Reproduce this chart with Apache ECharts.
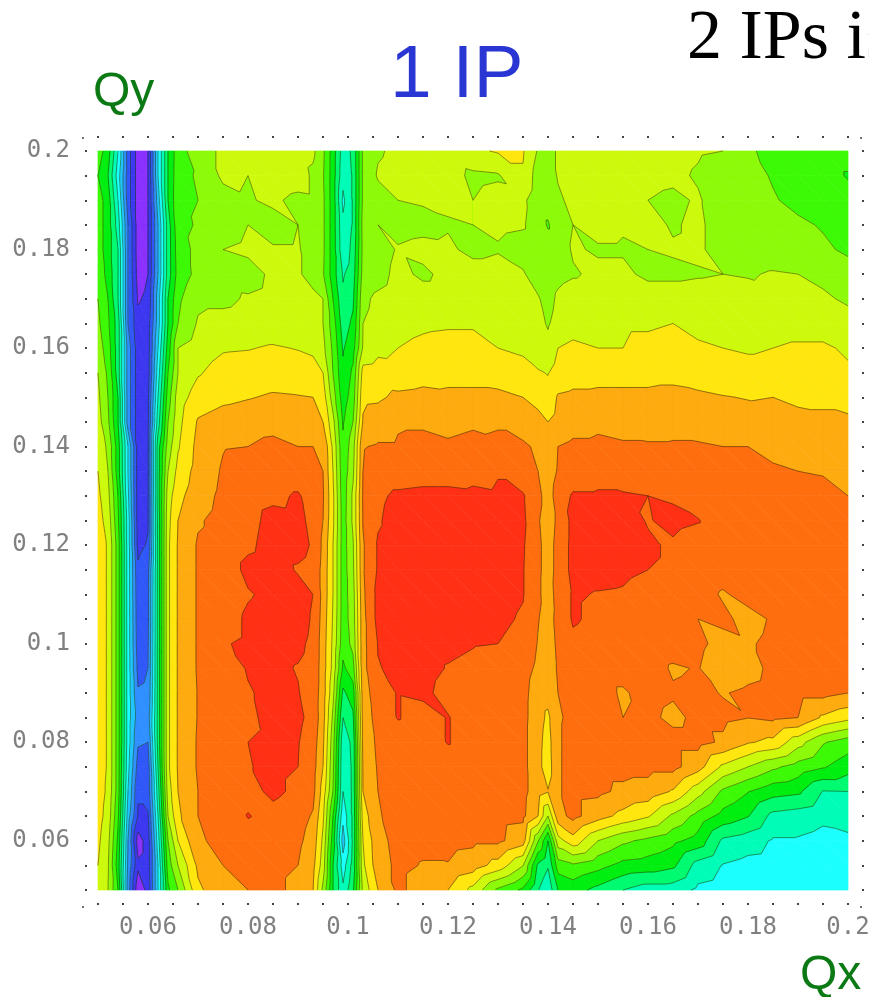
<!DOCTYPE html>
<html><head><meta charset="utf-8">
<script src="https://cdn.jsdelivr.net/npm/echarts@6/dist/echarts.min.js"></script>
<style>html,body{margin:0;padding:0;background:#fff;overflow:hidden}#c{width:869px;height:997px;filter:blur(0.7px)}</style>
</head><body><div id="c"></div>
<script>
const qx=[.05,.052,.054,.056,.058,.06,.062,.064,.066,.07,.075,.08,.085,.09,.093,.095,.097,.099,.101,.103,.106,.11,.115,.12,.125,.13,.135,.138,.14,.142,.145,.15,.155,.16,.165,.17,.175,.18,.185,.19,.195,.2];
const qy=[.2,.195,.19,.185,.18,.175,.17,.165,.16,.155,.15,.145,.14,.135,.13,.125,.12,.115,.11,.105,.1,.095,.09,.085,.08,.075,.07,.065,.06,.055,.05];
const z=[
[9.5,8.5,6,2.5,.5,1,5,8,9.6,10.5,11.2,11.4,11.3,11.4,11.2,10.2,8.5,6.5,7.2,10.2,10.9,11.2,11.4,11.5,11.8,12.1,12.1,10.9,10.7,11.1,11.3,11.5,11.5,11.3,11.3,11.1,11,10.1,9.8,9.6,9.5,9.5],
[9,8,5.5,2.5,.5,1,5,8,9.7,10.1,11.2,11,11.8,11.6,10.8,10.1,8.5,6.3,7.1,10.2,11.1,11.3,11.4,11.4,10.8,10.9,11.9,10.5,10.4,11.1,11.3,11.1,11.5,11.3,11.2,10.9,10.5,10.4,9.9,9.6,9.5,8.9],
[9.5,8.5,6,2.5,.5,1,4.5,8,9.8,10,10.6,10.9,11.2,10.7,10.8,10.2,8.5,5.8,7.1,10.2,10.6,11,11.1,11.2,11,11.3,11.2,10.4,10.4,10.8,11.3,11.5,11.1,11,10.8,11.1,10.5,10.4,10.1,9.7,9.5,9.5],
[9.5,8.5,6.5,3,.5,1,4,7.5,9.7,10.1,10.5,11,10.6,11,10.5,10.2,8.5,6.2,7.1,10.4,11,10.6,10.7,10.9,11,11.2,11.1,10.5,9.9,10.6,11,11.3,11.1,11.3,10.9,11.2,10.5,10.4,10.3,10.2,9.9,9.7],
[9.5,8.5,7,3,.5,1,4,7.5,9.5,10.3,11,11.2,11.1,11.1,10.5,10.2,8.5,6.3,7.3,10.3,10.5,11.1,11.3,11.2,10.7,10.9,10.6,10.5,10.5,10.5,11.1,10.9,10.9,11,11.1,11.2,10.5,10.4,10.4,10.3,10.2,9.8],
[9.6,8.7,7,3,.6,1,4,7.5,9.4,10.3,10.7,10.6,11.2,11.1,10.7,10.1,8.5,6.9,7.5,10.4,10.6,11.3,10.8,11.3,11.5,11.5,11.1,10.5,10.4,10.7,10.9,11.2,11.2,10.8,10.8,10.9,11,10.9,11.1,11,10.7,10.5],
[10,9,7,3,.9,1.2,4.5,8,9.8,10.8,10.8,11.1,11.3,11.2,11.2,11,9,7.2,7.8,10.8,11.2,11.5,11.5,11.5,11.6,11.6,11.5,11.1,10.6,11.2,11.5,11.5,11.6,11.5,11.5,11.5,11.5,11.5,11.3,11.2,11.2,10.8],
[10.2,9.2,7.5,3,1.3,1.5,4.5,8,10,11.1,11.3,11.4,11.4,11.5,11.4,11,9.5,7.5,8.2,11,11.3,11.7,11.85,11.9,11.9,11.8,11.7,11.3,10.9,11.4,11.6,11.7,11.9,11.9,12,11.8,11.7,11.7,11.7,11.7,11.7,11.5],
[10.5,9.5,7.5,3.5,1.5,1.5,5,8.5,11,11.5,11.9,11.95,12.1,11.95,11.8,11.3,9.8,7.9,8.6,11.1,11.7,12,12.2,12.3,12.3,12,11.8,11.4,11.3,12,12.2,12,12,12.2,12.3,12.1,12,11.9,12,12.1,12.1,11.9],
[11,9.8,7.5,3.5,1.5,1.5,5.5,9,11,11.9,12.4,12.5,12.6,12.5,12.4,12,10,8.2,9.2,12.4,12.5,12.4,12.6,12.7,12.7,12.6,12.4,12.1,11.95,12.4,12.6,12.7,12.7,12.7,12.7,12.5,12.4,12.3,12.3,12.4,12.4,12.1],
[11.2,10,8,3.5,1.5,1.8,6,9.5,11.5,12.5,12.8,12.95,13.1,13.05,13,12.5,10.5,8.5,9.5,12.8,12.85,13.2,13.3,13.2,13.2,13.2,13,12.7,12.4,13.1,13.2,13.2,13.2,13.2,13.3,13.2,13.05,12.95,13,12.8,12.8,12.6],
[11.4,10.2,8,3.5,1.5,1.8,6.5,10,11.7,13.1,13.4,13.5,13.6,13.6,13.5,13,11.3,8.9,10,13.1,13.5,13.9,13.9,13.8,13.9,13.95,13.7,13.3,13,13.3,13.6,13.8,13.7,13.6,13.7,13.6,13.5,13.4,13.3,13.3,13.2,13.2],
[11.7,10.8,8.5,5,1.5,1.9,7.5,10.5,11.9,13.3,13.95,14,14.3,14,14,13.95,11.8,9.2,10.6,13.95,14.1,14.1,14.2,14.1,14.2,14.1,14.1,13.9,13.2,14,14.2,14.2,14.1,14.1,14.1,14.1,14,14,13.8,13.6,13.7,13.3],
[12,11,8.5,5,1.5,1.9,7.5,11,12.3,13.4,14.1,14.4,14.5,14.5,14.4,14,12,9.3,10.8,14,14.4,14.4,14.5,14.5,14.7,14.95,14.3,14,13.4,14.1,14.5,14.7,14.5,14.4,14.4,14.3,14.3,14.2,14.1,14,13.95,13.7],
[12.2,11.3,9,5.2,1.5,1.9,7.5,11.5,12.7,13.6,14.2,14.6,14.8,15.1,14.6,14.1,12.2,9.4,11.2,14.1,14.8,15.2,15.3,15.3,15.2,15.1,15.1,14.3,13.5,14.5,15.1,15.1,15.1,15,14.9,14.5,14.4,14.4,14.3,14.2,14.2,14],
[12.4,11.6,9.2,5.5,1.5,1.9,7.3,11.7,13,13.9,14.3,14.7,15.3,15.2,14.8,14,12.2,9.5,11.2,14.05,14.9,15.4,15.5,15.5,15.5,15.5,15.2,14.1,13.5,14.2,15.3,15.5,15.3,14.95,15.2,15.05,14.5,14.4,14.3,14.3,14.2,14.1],
[12.5,11.9,9.5,5.5,1.7,2.1,7.3,11.8,13.1,14.1,14.3,14.8,15.4,15.3,14.9,13.8,12,9.5,10.9,13.9,15.1,15.4,15.5,15.5,15.4,15.5,15.1,14.2,13.6,14.3,15.3,15.4,15.4,15.1,14.9,14.6,14.5,14.5,14.4,14.4,14.3,14.2],
[12.5,11.9,9.5,5.5,2.2,2.7,7.3,11.8,13.1,14.1,14.3,15.3,15.5,14.9,14.7,13.7,12,9.5,10.8,13.9,15.1,15.4,15.5,15.5,15.5,15.4,15.05,14.2,13.6,14.3,15.3,15.3,15.2,15,14.9,14.6,14.4,14.4,14.4,14.3,14.3,14.2],
[12.5,11.9,9.5,5.5,2.3,2.8,7.3,11.8,13.1,14.1,14.3,14.9,15.3,15.4,15,13.7,12,9.5,10.6,13.8,15.3,15.3,15.5,15.5,15.5,15.3,15.05,14.2,13.5,14.4,15.1,14.95,14.9,14.6,14.5,14.4,13.9,14.3,14.4,14.3,14.3,14.3],
[12.5,11.9,9.5,5.5,2.4,2.8,7.3,11.8,13.1,14.1,14.4,15.2,15.5,15.4,14.9,13.6,11.9,9.5,10.5,13.7,15.3,15.4,15.5,15.4,15.2,15.2,14.9,14.05,13.6,14.3,15.1,14.8,14.6,14.5,14.4,14,14.2,13.7,14.1,14,14.2,14.3],
[12.5,11.9,9.5,5.5,2.5,2.9,7.3,11.8,13.1,14.1,14.9,15.2,15.3,15.2,14.8,13.5,11.8,9.4,10.3,13.7,15.05,15.2,15.3,15.2,15.05,15,14.7,13.95,13.5,14.2,14.8,14.6,14.5,14.5,14.4,14.2,13.7,13.9,14.2,14.2,14.2,14.2],
[12.5,11.9,9.5,5.5,2.7,3,7.3,11.8,13.1,14.1,14.3,15.1,15.2,14.95,14.7,13.5,11.7,8.8,9.6,13.7,14.95,15.2,15.3,14.95,14.8,14.6,14.4,13.8,13.5,14.1,14.3,14.3,14.3,14.4,13.9,14.05,13.4,13.7,14.2,14.2,14.2,14.2],
[12.5,11.9,9.5,5.5,3.1,3.2,7.3,11.8,13.1,14.05,14.3,14.9,15.3,15.05,14.6,13.5,11.3,7.8,8.5,13.5,14.6,15.05,15.2,14.7,14.5,14.4,14.3,13.5,13.4,14,14.2,14.3,13.9,14.3,14.1,14.2,13.95,14.15,14.3,14.3,14.3,14],
[12.5,11.9,9.5,5.5,3.5,3.5,7.3,11.8,13.1,14.05,14.3,14.8,15.3,15.2,14.7,13.4,10.8,7,7.8,13.4,14.4,15.05,14.6,15.05,14.5,14.4,14.3,13.4,12.8,13.9,14.2,14.3,14,14.2,13.8,14.2,14.2,14.02,14.2,14,12.85,12.3],
[12.5,11.9,9.5,5.5,3.1,3,7.3,11.8,13.1,14.1,14.3,15,15.2,15.05,14.5,13.2,10.4,6.3,7.3,13.3,14.2,14.5,14.5,15.05,14.5,14.4,14.3,13.3,12.6,13.9,14.3,14.3,14.3,14.3,14.3,14.3,13.85,13.1,12.75,11.4,10.1,9.5],
[12.5,11.9,9.5,5.3,2.6,2.5,7,11.8,13.1,14.1,14.3,14.95,15.2,15,14.4,13,10.2,6.1,7.2,13.1,14.1,14.5,14.5,14.5,14.5,14.4,14.3,13.3,12.5,13.9,14.3,14.3,14.3,14.3,14.3,13.4,11.8,11,10.2,9.6,9.1,8.45],
[12.5,11.8,9.5,5,2.1,2.4,6.5,11.5,13,14,14.3,14.7,15.2,14.8,14.3,12.6,10,6,7.2,13,14,14.4,14.5,14.4,14.4,14.4,14.3,13.4,13.05,13.9,14.3,14.2,13.8,13.6,12.9,11.4,9.8,9.05,8.4,8.2,6.95,7],
[12.4,11.6,9.2,4.5,1.9,1.9,6,11,12.8,14,14.3,15.05,14.7,14.4,13.9,12.2,9,5.3,7.2,12.5,13.9,14.4,14.3,14.4,14.4,14.3,14.2,13,11,13.6,14.3,13.4,12.7,12.1,10.8,9.65,8.65,8.05,6.7,6.5,6.2,6.4],
[12.2,11.3,8.8,4,.5,1.5,5.5,10,12,13.9,14.2,14.5,14.4,14.2,13.6,11.8,8.5,4.5,7.2,12,13.7,14.3,14.2,14.3,14.2,14.2,13.45,10.1,8,11.6,12.6,11,10.2,9.75,9.25,8.6,6.8,6.45,5.9,5.9,5.7,5.8],
[12,11.1,8.5,3.8,1.2,1.5,5,9.5,11,13.2,14,14.2,14.2,14,13.3,11.5,8,5.5,7.4,11.8,13.6,14.2,13.95,13.95,13.5,12.6,11.05,7.8,7.1,9.5,9.85,9.35,8.7,8.55,8.2,6.6,5.95,5.7,5.6,5.5,5.5,5.6],
[11.5,11,9,3.5,.3,1.3,5,8.8,10,12.8,13.7,14,14.2,13.8,13,10.8,8,6.2,7.8,11.3,13,14.2,13.6,13,11.7,9.8,8.8,7.05,6.3,8,8.4,7.7,7,6.5,6.5,5.8,5.6,5.4,5.4,5.3,5.3,5.5]
];
const bandColors=['#8a30ff','#3c38f0','#3058f8','#3090ff','#20c4ff','#1cffff','#00fdb8','#00fa70','#00ee10','#3cfa06','#8cfa08','#cdfa0c','#ffe60e','#fdab0e','#ff6e0e','#ff3014'];
const tickLabels=['0.06','0.08','0.1','0.12','0.14','0.16','0.18','0.2'];

const cells=[];
for(let j=0;j<qy.length-1;j++)for(let i=0;i<qx.length-1;i++)cells.push([qx[i],qy[j],i,j]);

function clip(poly,level,keepAbove){
  const out=[];
  for(let k=0;k<poly.length;k++){
    const a=poly[k],b=poly[(k+1)%poly.length];
    const ina=keepAbove?a[2]>=level:a[2]<=level, inb=keepAbove?b[2]>=level:b[2]<=level;
    if(ina)out.push(a);
    if(ina!==inb){const t=(level-a[2])/(b[2]-a[2]);out.push([a[0]+t*(b[0]-a[0]),a[1]+t*(b[1]-a[1]),level]);}
  }
  return out;
}
function cornerTris(api){
  const i=api.value(2),j=api.value(3);
  const pt=(m,n)=>{const p=api.coord([qx[m],qy[n]]);return [p[0],p[1],z[n][m]];};
  const a=pt(i,j),b=pt(i+1,j),c=pt(i+1,j+1),d=pt(i,j+1);
  return [[a,b,c],[a,c,d]];
}
function fillItem(params,api){
  const children=[];
  for(const tri of cornerTris(api)){
    const zs=tri.map(p=>p[2]);
    const lo=Math.min(...zs),hi=Math.max(...zs);
    for(let k=0;k<bandColors.length;k++){
      if(k<bandColors.length-1&&lo>k+1)continue;
      if(k>0&&hi<k)continue;
      let poly=tri;
      if(k>0)poly=clip(poly,k,true);
      if(poly.length&&k<bandColors.length-1)poly=clip(poly,k+1,false);
      if(poly.length<3)continue;
      children.push({type:'polygon',silent:true,shape:{points:poly.map(p=>[p[0],p[1]])},style:{fill:bandColors[k],stroke:bandColors[k],lineWidth:0.7}});
    }
  }
  return {type:'group',children};
}
function lineItem(params,api){
  const children=[];
  for(const tri of cornerTris(api)){
    for(let L=1;L<bandColors.length;L++){
      const pts=[];
      for(let k=0;k<3;k++){
        const a=tri[k],b=tri[(k+1)%3];
        if((a[2]>=L)!==(b[2]>=L)){const t=(L-a[2])/(b[2]-a[2]);pts.push([a[0]+t*(b[0]-a[0]),a[1]+t*(b[1]-a[1])]);}
      }
      if(pts.length===2)children.push({type:'line',silent:true,shape:{x1:pts[0][0],y1:pts[0][1],x2:pts[1][0],y2:pts[1][1]},style:{stroke:'rgba(30,40,0,0.55)',lineWidth:0.9}});
    }
  }
  return {type:'group',children};
}
const labelFmt=v=>{const s=String(+v.toFixed(3));return tickLabels.includes(s)?s:'';};
const labelStyle={show:true,fontFamily:'DejaVu Sans Mono',fontSize:24,color:'#808080',formatter:labelFmt,hideOverlap:false};
const tick={show:true,length:2,inside:false,lineStyle:{color:'#444',width:2}};
const scale={type:'value',min:.05,max:.2,interval:.005,splitLine:{show:false},axisLine:{show:false},axisTick:tick};
const chart=echarts.init(document.getElementById('c'),null,{renderer:'canvas'});
chart.setOption({
  animation:false,backgroundColor:'#fff',
  grid:{left:98,right:21,top:151,bottom:107,containLabel:false,outerBoundsMode:'none'},
  title:[
    {text:'1 IP',left:385,top:34,textStyle:{fontFamily:'Liberation Sans',fontSize:75,fontWeight:'normal',color:'#2a36d4'}},
    {text:'Qy',left:88,top:64,textStyle:{fontFamily:'Liberation Sans',fontSize:48,fontWeight:'normal',color:'#0c7a14'}},
    {text:'Qx',left:795,top:947,textStyle:{fontFamily:'Liberation Sans',fontSize:48,fontWeight:'normal',color:'#0c7a14'}},
    {text:'2 IPs is',left:682,top:0,textStyle:{fontFamily:'Liberation Serif',fontSize:70,fontWeight:'normal',color:'#000'}}
  ],
  xAxis:[
    {...scale,position:'bottom',offset:13,axisLabel:{...labelStyle,margin:13}},
    {...scale,position:'top',offset:13,axisLabel:{show:false}}
  ],
  yAxis:[
    {...scale,position:'left',offset:11,axisLabel:{...labelStyle,margin:17}},
    {...scale,position:'right',offset:14,axisLabel:{show:false}}
  ],
  graphic:[[83,138],[861,138],[83,907],[861,907]].map(p=>({type:'circle',silent:true,shape:{cx:p[0],cy:p[1],r:1},style:{fill:'#444'}})),
  series:[
    {type:'custom',name:'bands',coordinateSystem:'cartesian2d',data:cells,encode:{x:0,y:1},renderItem:fillItem,silent:true,z:1,progressive:0,clip:false},
    {type:'custom',name:'contours',coordinateSystem:'cartesian2d',data:cells,encode:{x:0,y:1},renderItem:lineItem,silent:true,z:2,progressive:0,clip:false}
  ]
});
</script></body></html>
